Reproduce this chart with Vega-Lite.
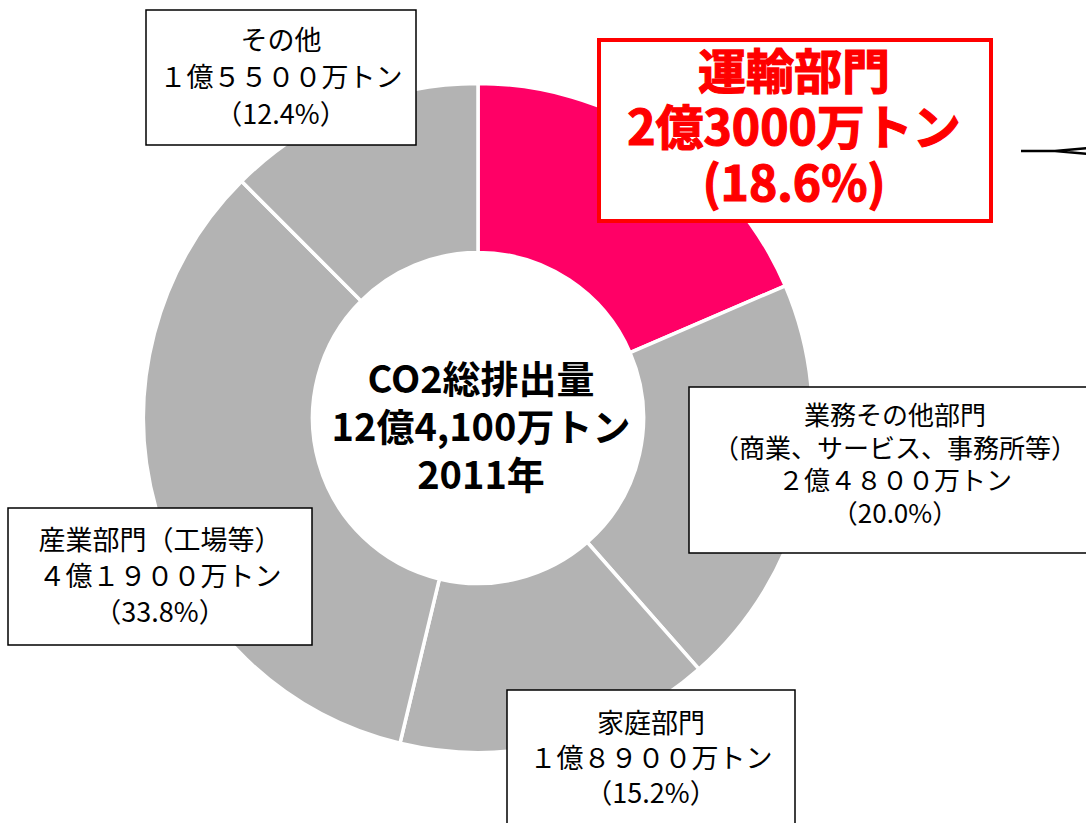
{
  "$schema": "https://vega.github.io/schema/vega-lite/v6.json",
  "width": 956,
  "height": 836,
  "autosize": {"type": "none"},
  "padding": {"left": 0, "top": 0, "right": 130, "bottom": 0},
  "background": "white",
  "config": {"view": {"stroke": null}, "font": "Noto Sans CJK JP"},
  "datasets": {
    "sectors": [
      {"sector": "運輸部門", "emissions": 23000, "order": 1, "label": ["運輸部門", "2億3000万トン", "(18.6%)"]},
      {"sector": "業務その他部門", "emissions": 24800, "order": 2, "label": ["業務その他部門", "（商業、サービス、事務所等）", "２億４８００万トン", "（20.0%）"]},
      {"sector": "家庭部門", "emissions": 18900, "order": 3, "label": ["家庭部門", "１億８９００万トン", "（15.2%）"]},
      {"sector": "産業部門", "emissions": 41900, "order": 4, "label": ["産業部門（工場等）", "４億１９００万トン", "（33.8%）"]},
      {"sector": "その他", "emissions": 15500, "order": 5, "label": ["その他", "１億５５００万トン", "（12.4%）"]}
    ],
    "total": [{"label": ["CO2総排出量", "12億4,100万トン", "2011年"]}]
  },
  "layer": [
    {
      "data": {"name": "sectors"},
      "mark": {"type": "arc", "radius": 334.5, "radius2": 165.5, "stroke": "white", "strokeWidth": 3.5},
      "encoding": {
        "theta": {"field": "emissions", "type": "quantitative", "stack": true},
        "order": {"field": "order", "type": "quantitative"},
        "color": {
          "field": "sector", "type": "nominal", "legend": null,
          "scale": {"domain": ["運輸部門", "業務その他部門", "家庭部門", "産業部門", "その他"], "range": ["#FF0066", "#B3B3B3", "#B3B3B3", "#B3B3B3", "#B3B3B3"]}
        }
      }
    },
    {
      "data": {"name": "sectors"},
      "transform": [{"filter": "datum.sector === 'その他'"}],
      "mark": {"type": "point", "shape": "M-135,-67.5H135V67.5H-135Z", "size": 4, "fill": "white", "stroke": "black", "strokeWidth": 1.5, "opacity": 1, "fillOpacity": 1, "strokeOpacity": 1, "xOffset": -197, "yOffset": -340.5},
      "encoding": {}
    },
    {
      "data": {"name": "sectors"},
      "transform": [{"filter": "datum.sector === '運輸部門'"}],
      "mark": {"type": "point", "shape": "M-196,-90.5H196V90.5H-196Z", "size": 4, "fill": "white", "stroke": "#FF0000", "strokeWidth": 4, "opacity": 1, "fillOpacity": 1, "strokeOpacity": 1, "xOffset": 317, "yOffset": -287.5},
      "encoding": {}
    },
    {
      "data": {"name": "sectors"},
      "transform": [{"filter": "datum.sector === '業務その他部門'"}],
      "mark": {"type": "point", "shape": "M-206,-83H206V83H-206Z", "size": 4, "fill": "white", "stroke": "black", "strokeWidth": 1.5, "opacity": 1, "fillOpacity": 1, "strokeOpacity": 1, "xOffset": 417, "yOffset": 52},
      "encoding": {}
    },
    {
      "data": {"name": "sectors"},
      "transform": [{"filter": "datum.sector === '家庭部門'"}],
      "mark": {"type": "point", "shape": "M-144,-71H144V71H-144Z", "size": 4, "fill": "white", "stroke": "black", "strokeWidth": 1.5, "opacity": 1, "fillOpacity": 1, "strokeOpacity": 1, "xOffset": 173, "yOffset": 343},
      "encoding": {}
    },
    {
      "data": {"name": "sectors"},
      "transform": [{"filter": "datum.sector === '産業部門'"}],
      "mark": {"type": "point", "shape": "M-152,-68.5H152V68.5H-152Z", "size": 4, "fill": "white", "stroke": "black", "strokeWidth": 1.5, "opacity": 1, "fillOpacity": 1, "strokeOpacity": 1, "xOffset": -318, "yOffset": 158.5},
      "encoding": {}
    },
    {
      "data": {"name": "sectors"},
      "transform": [{"filter": "datum.sector === 'その他'"}],
      "mark": {"type": "text", "align": "center", "baseline": "middle", "fontSize": 27, "lineHeight": 37, "color": "black", "dx": -197, "dy": -376},
      "encoding": {"text": {"field": "label"}}
    },
    {
      "data": {"name": "sectors"},
      "transform": [{"filter": "datum.sector === '運輸部門'"}],
      "mark": {"type": "text", "align": "center", "baseline": "middle", "fontSize": 48, "fontWeight": "bold", "lineHeight": 56, "color": "#FF0000", "stroke": "#FF0000", "strokeWidth": 1.2, "dx": 316, "dy": -343},
      "encoding": {"text": {"field": "label"}}
    },
    {
      "data": {"name": "sectors"},
      "transform": [{"filter": "datum.sector === '業務その他部門'"}],
      "mark": {"type": "text", "align": "center", "baseline": "middle", "fontSize": 26, "lineHeight": 32.5, "color": "black", "dx": 417, "dy": -1},
      "encoding": {"text": {"field": "label"}}
    },
    {
      "data": {"name": "sectors"},
      "transform": [{"filter": "datum.sector === '家庭部門'"}],
      "mark": {"type": "text", "align": "center", "baseline": "middle", "fontSize": 27, "lineHeight": 35, "color": "black", "dx": 173, "dy": 307},
      "encoding": {"text": {"field": "label"}}
    },
    {
      "data": {"name": "sectors"},
      "transform": [{"filter": "datum.sector === '産業部門'"}],
      "mark": {"type": "text", "align": "center", "baseline": "middle", "fontSize": 27, "lineHeight": 36, "color": "black", "dx": -318, "dy": 124},
      "encoding": {"text": {"field": "label"}}
    },
    {
      "data": {"name": "total"},
      "mark": {"type": "text", "align": "center", "baseline": "middle", "fontSize": 38, "fontWeight": "bold", "lineHeight": 48, "color": "black", "dx": 3, "dy": -36},
      "encoding": {"text": {"field": "label"}}
    },
    {
      "data": {"name": "total"},
      "mark": {"type": "point", "shape": "M543,-267H577M577,-267L610,-270M577,-267L610,-264", "size": 4, "filled": false, "fill": null, "stroke": "black", "strokeWidth": 2.5, "opacity": 1, "strokeOpacity": 1},
      "encoding": {}
    }
  ]
}
